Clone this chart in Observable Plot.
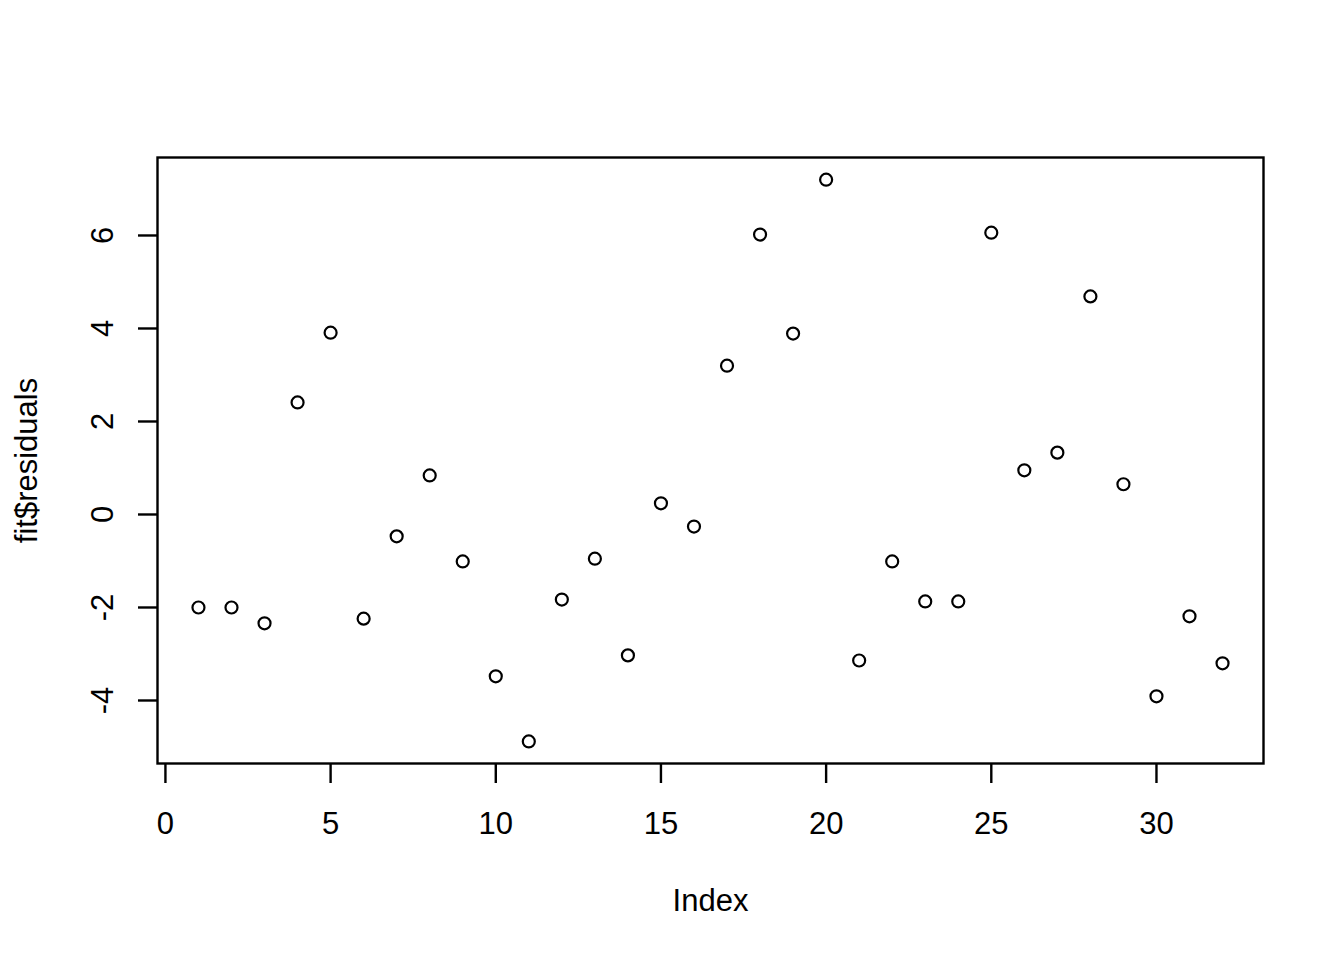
<!DOCTYPE html>
<html>
<head>
<meta charset="utf-8">
<script src="https://cdn.jsdelivr.net/npm/d3@7"></script>
<script src="https://cdn.jsdelivr.net/npm/@observablehq/plot@0.6"></script>
<style>
  html, body { margin: 0; padding: 0; background: #fff; }
  svg { display: block; }
</style>
</head>
<body>
<div id="chart"></div>
<script>
const indexValues = [1,2,3,4,5,6,7,8,9,10,11,12,13,14,15,16,17,18,19,20,21,22,23,24,25,26,27,28,29,30,31,32];
const residuals = [-2.00,-2.00,-2.34,2.41,3.91,-2.24,-0.47,0.84,-1.01,-3.48,-4.88,-1.83,-0.95,-3.03,0.24,-0.26,3.20,6.02,3.89,7.20,-3.14,-1.01,-1.87,-1.87,6.06,0.95,1.33,4.69,0.65,-3.91,-2.19,-3.20];
const xTicks = [0,5,10,15,20,25,30];
const yTicks = [-4,-2,0,2,4,6];
const xTitle = "Index";
const yTitle = "fit$residuals";

const data = indexValues.map((x, i) => ({x, y: residuals[i]}));
const font = "Liberation Sans, Arial, sans-serif";
const fs = 31;

const chart = Plot.plot({
  width: 1344,
  height: 960,
  marginLeft: 157,
  marginRight: 81,
  marginTop: 157,
  marginBottom: 197,
  style: {fontFamily: font, background: "#fff"},
  x: {domain: [-0.24, 33.24]},
  y: {domain: [-5.355, 7.677]},
  marks: [
    Plot.frame({stroke: "black", strokeWidth: 2.4}),
    Plot.axisX({ticks: xTicks, tickSize: 20, tickFormat: () => "", label: null, stroke: "black", strokeWidth: 2.4}),
    Plot.axisY({ticks: yTicks, tickSize: 19, tickFormat: () => "", label: null, stroke: "black", strokeWidth: 2.4}),
    Plot.text(xTicks, {x: d => d, text: d => String(d), frameAnchor: "bottom", dy: 70, lineAnchor: "bottom", fontSize: fs, fill: "black"}),
    Plot.text(yTicks, {y: d => d, text: d => String(d), frameAnchor: "left", dx: -45, rotate: -90, lineAnchor: "bottom", textAnchor: "middle", fontSize: fs, fill: "black"}),
    Plot.text([xTitle], {text: d => d, frameAnchor: "bottom", dy: 147, lineAnchor: "bottom", fontSize: fs, fill: "black"}),
    Plot.text([yTitle], {text: d => d, frameAnchor: "left", dx: -121, rotate: -90, lineAnchor: "bottom", textAnchor: "middle", fontSize: fs, fill: "black"}),
    Plot.dot(data, {x: "x", y: "y", r: 6, stroke: "black", strokeWidth: 2.2, fill: "none"})
  ]
});
document.getElementById("chart").appendChild(chart);
</script>
</body>
</html>
